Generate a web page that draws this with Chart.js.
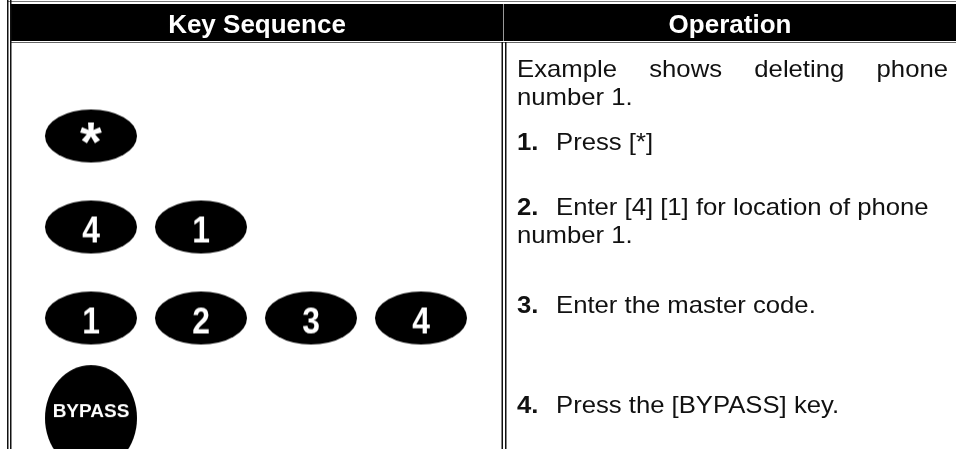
<!DOCTYPE html>
<html>
<head>
<meta charset="utf-8">
<script src="https://cdn.jsdelivr.net/npm/chart.js@4.4.0/dist/chart.umd.min.js"></script>
<style>
html, body { margin: 0; padding: 0; background: #fff; }
canvas { display: block; }
</style>
</head>
<body>
<canvas id="c" width="956" height="449"></canvas>
<script>
// column headings
var headings = ['Key Sequence', 'Operation'];

// keys of the left column: label, position in its row, row
var keyLabels = ['*', '4', '1', '1', '2', '3', '4', 'BYPASS'];
var keyCols   = [0, 0, 1, 0, 1, 2, 3, 0];
var keyRows   = [0, 1, 1, 2, 2, 2, 2, 3.1];

// right column text
var introText = ['Example shows deleting phone', 'number 1.'];
var stepNums  = ['1.', '2.', '3.', '4.'];
var stepText  = [
  ['Press [*]'],
  ['Enter [4] [1] for location of phone', 'number 1.'],
  ['Enter the master code.'],
  ['Press the [BYPASS] key.']
];

var W = 956, H = 449;
var KEY_X0 = 91, KEY_DX = 110, ROW_Y0 = 136, ROW_DY = 91;
var FONT = '"Liberation Sans", Arial, Helvetica, sans-serif';
var TEXT_X = 517, TEXT_R = 948, TEXT_SX = 1.07, LINE_H = 28;
var INTRO_Y = 77, STEP_Y = [150, 215, 313, 413];

// each key is drawn as a canvas used for the point style
function keyImage(label) {
  var round = label.length > 2;
  var star = label === '*';
  var rx = 46, ry = round ? 53 : 26.5;
  var c = document.createElement('canvas');
  c.width = Math.ceil(rx * 2) + 2;
  c.height = Math.ceil(ry * 2) + 2;
  var g = c.getContext('2d');
  g.fillStyle = '#000';
  g.beginPath();
  g.ellipse(c.width / 2, c.height / 2, rx, ry, 0, 0, Math.PI * 2);
  g.fill();
  var size = round ? 19 : (star ? 56 : 37);
  var shift = round ? -8 : (star ? -3 : 2);
  var sx = (round || star) ? 1 : 0.86;   // digits are narrow on the keypad
  g.fillStyle = '#fff';
  g.font = 'bold ' + size + 'px ' + FONT;
  g.textAlign = 'center';
  g.textBaseline = 'alphabetic';
  var m = g.measureText(label);
  var ty = c.height / 2 + (m.actualBoundingBoxAscent - m.actualBoundingBoxDescent) / 2 + shift;
  g.translate(c.width / 2, ty);
  g.scale(sx, 1);
  g.fillText(label, 0, 0);
  return c;
}

function textW(ctx, s) { return ctx.measureText(s).width * TEXT_SX; }

function drawText(ctx, s, x, y) {
  ctx.save();
  ctx.translate(x, y);
  ctx.scale(TEXT_SX, 1);
  ctx.fillText(s, 0, 0);
  ctx.restore();
}

var tablePlugin = {
  id: 'table',
  beforeDraw: function (chart) {
    var ctx = chart.ctx;
    ctx.save();
    ctx.fillStyle = '#fff';
    ctx.fillRect(0, 0, W, H);
    ctx.restore();
  },
  beforeDatasetsDraw: function (chart) {
    var ctx = chart.ctx;
    ctx.save();
    // top rule and header band
    ctx.fillStyle = '#777';
    ctx.fillRect(8, 1, W - 8, 1);
    ctx.fillStyle = '#000';
    ctx.fillRect(10, 4, W - 10, 37);
    ctx.fillStyle = '#999';
    ctx.fillRect(503, 4, 1, 37);
    ctx.fillStyle = '#666';
    ctx.fillRect(10, 42, W - 10, 1);
    // vertical double rules
    ctx.fillStyle = '#111';
    ctx.fillRect(7, 0, 1.5, H);
    ctx.fillRect(10, 0, 1.5, H);
    ctx.fillRect(501.5, 42, 1.5, H - 42);
    ctx.fillRect(505, 42, 1.5, H - 42);

    // headings
    ctx.fillStyle = '#fff';
    ctx.font = 'bold 26px ' + FONT;
    ctx.textAlign = 'center';
    ctx.textBaseline = 'alphabetic';
    ctx.fillText(headings[0], 257, 33);
    ctx.fillText(headings[1], 730, 33);

    // operation text
    ctx.fillStyle = '#111';
    ctx.textAlign = 'left';
    ctx.font = '24px ' + FONT;
    var words = introText[0].split(' ');
    var sum = 0;
    words.forEach(function (w) { sum += textW(ctx, w); });
    var gap = (TEXT_R - TEXT_X - sum) / (words.length - 1);
    var x = TEXT_X;
    words.forEach(function (w) {
      drawText(ctx, w, x, INTRO_Y);
      x += textW(ctx, w) + gap;
    });
    drawText(ctx, introText[1], TEXT_X, INTRO_Y + LINE_H);

    stepNums.forEach(function (n, i) {
      var y = STEP_Y[i];
      ctx.font = 'bold 24px ' + FONT;
      drawText(ctx, n, TEXT_X, y);
      ctx.font = '24px ' + FONT;
      stepText[i].forEach(function (line, j) {
        drawText(ctx, line, j === 0 ? TEXT_X + 39 : TEXT_X, y + j * LINE_H);
      });
    });
    ctx.restore();
  }
};

new Chart(document.getElementById('c'), {
  type: 'scatter',
  data: {
    datasets: [{
      data: keyLabels.map(function (l, i) { return { x: keyCols[i], y: keyRows[i] }; }),
      pointStyle: keyLabels.map(keyImage),
      pointRadius: 30,
      pointHoverRadius: 30,
      clip: false
    }]
  },
  options: {
    responsive: false,
    animation: false,
    devicePixelRatio: 1,
    events: [],
    layout: { padding: 0, autoPadding: false },
    plugins: {
      legend: { display: false },
      tooltip: { enabled: false },
      title: { display: false }
    },
    scales: {
      x: { type: 'linear', display: false, min: -KEY_X0 / KEY_DX, max: (W - KEY_X0) / KEY_DX },
      y: { type: 'linear', display: false, reverse: true, min: -ROW_Y0 / ROW_DY, max: (H - ROW_Y0) / ROW_DY }
    }
  },
  plugins: [tablePlugin]
});
</script>
</body>
</html>
